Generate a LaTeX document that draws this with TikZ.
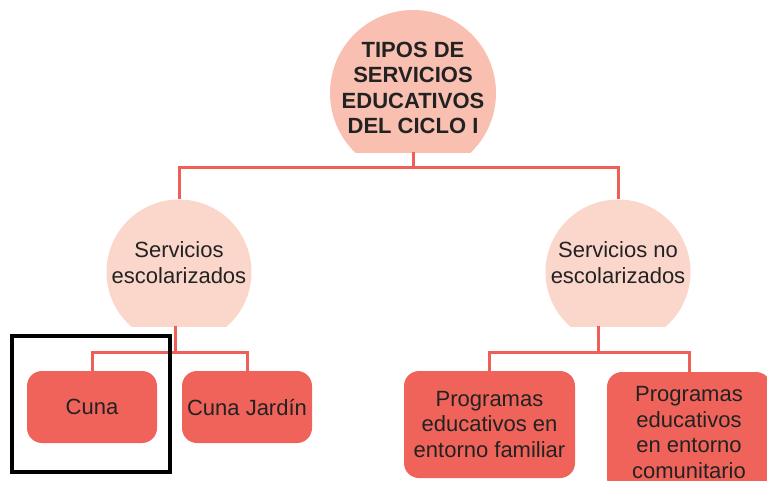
\documentclass[tikz,border=0pt]{standalone}
\usepackage{fontspec}
\setmainfont{Liberation Sans}

\definecolor{linkred}{HTML}{EE5F58}
\definecolor{boxred}{HTML}{F0635A}
\definecolor{toppink}{HTML}{F9BFB1}
\definecolor{sidepink}{HTML}{FBD6CB}
\definecolor{inktext}{HTML}{222222}

\tikzset{
  bubble/.style n args={3}{rectangle, inner sep=0pt, minimum width=2*#1, align=center, text=inktext,
    path picture={\clip (path picture bounding box.north west) rectangle ([yshift=#3]path picture bounding box.south east);
      \fill[#2] ([yshift=-#1]path picture bounding box.north) circle (#1);}},
  leaf/.style={rectangle, rounded corners=15pt, fill=boxred, text=inktext, align=center, inner sep=0pt},
  link/.style={draw=linkred, line width=3pt},
}

\begin{document}
\begin{tikzpicture}[x=1pt, y=-1pt, font=\fontsize{22}{25.5}\selectfont]
\clip (0,0) rectangle (767,480);

\node[bubble={83pt}{toppink}{14pt}, minimum height=156pt, font=\fontsize{22}{25.5}\selectfont\bfseries] (tipos) at (413,88) {TIPOS DE\\SERVICIOS\\EDUCATIVOS\\DEL CICLO I};

\node[bubble={72.5pt}{sidepink}{0pt}, minimum height=126.5pt] (esc) at (179,262.75) {Servicios\\escolarizados};
\node[bubble={72.5pt}{sidepink}{0pt}, minimum height=126.5pt] (noesc) at (618,262.75) {Servicios no\\escolarizados};

\node[leaf, minimum width=130pt, minimum height=72pt] (cuna) at (92,407) {Cuna};
\node[leaf, minimum width=130pt, minimum height=72pt] (jardin) at (247,407) {Cuna Jardín};
\node[leaf, minimum width=171pt, minimum height=107pt] (familiar) at (489.5,424.5) {Programas\\educativos en\\entorno familiar};
\node[leaf, minimum width=164pt, minimum height=121pt] (comunitario) at (689,432.5) {Programas\\educativos\\en entorno\\comunitario};

\coordinate (raiz) at (413,167);
\coordinate (ramaA) at (175,352);
\coordinate (ramaB) at (598,352);

\draw[link] ([yshift=14pt]tipos.south) -- (raiz);
\draw[link] (esc.north) |- (raiz) -| (noesc.north);
\draw[link] (esc.south -| ramaA) -- (ramaA);
\draw[link] (cuna.north) |- (ramaA) -| (jardin.north);
\draw[link] (noesc.south -| ramaB) -- (ramaB);
\draw[link] (familiar.north) |- (ramaB) -| (comunitario.north);

\draw[black, line width=3.5pt] (12,336) rectangle (170,472);
\end{tikzpicture}
\end{document}
